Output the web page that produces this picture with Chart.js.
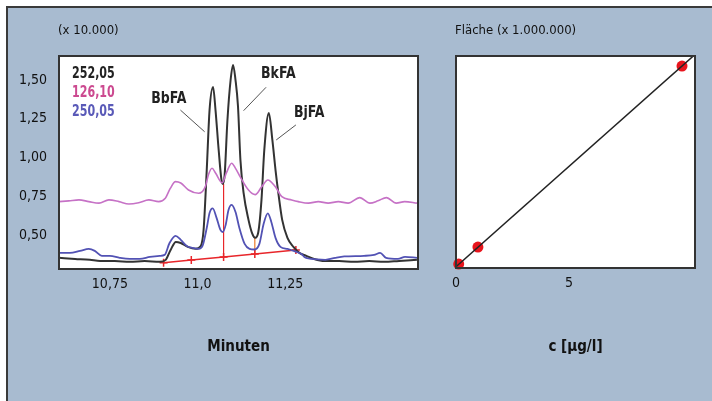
<!DOCTYPE html>
<html lang="de">
<head>
<meta charset="UTF-8">
<title>Chromatogramm und Kalibrierung</title>
<script src="https://cdn.jsdelivr.net/npm/chart.js"></script>
<style>
  body { margin:0; background:#ffffff; width:712px; height:401px; overflow:hidden; position:relative; }
  #panel { position:absolute; left:6px; top:6px; right:0; bottom:0; background:#a8bbd0; border-top:2px solid #3a3a3a; border-left:2px solid #3a3a3a; }
  canvas { position:absolute; top:0; }
  #chrom { left:0; }
  #kal { left:440px; }
</style>
</head>
<body>
<div id="panel"></div>
<canvas id="chrom" width="440" height="401"></canvas>
<canvas id="kal" width="272" height="401"></canvas>
<script>
// Chromatogramm, Spur 252,05
const t252 = [10.605,10.651,10.693,10.722,10.764,10.807,10.849,10.892,10.909,10.923,10.938,10.952,10.972,10.994,11.009,11.017,11.026,11.034,11.044,11.051,11.060,11.068,11.072,11.077,11.085,11.094,11.101,11.108,11.115,11.122,11.131,11.145,11.156,11.164,11.173,11.182,11.190,11.203,11.213,11.222,11.230,11.241,11.256,11.273,11.290,11.310,11.332,11.361,11.403,11.446,11.489,11.531,11.574,11.625];
const s252 = [0.352,0.345,0.339,0.332,0.332,0.326,0.332,0.326,0.339,0.403,0.455,0.448,0.423,0.410,0.429,0.532,0.919,1.306,1.455,1.306,1.048,0.855,0.829,0.887,1.242,1.500,1.597,1.500,1.332,0.984,0.771,0.597,0.506,0.481,0.519,0.726,1.048,1.287,1.113,0.919,0.771,0.597,0.481,0.423,0.384,0.365,0.345,0.332,0.332,0.326,0.332,0.326,0.332,0.339];

// Spur 126,10
const t126 = [10.605,10.633,10.662,10.690,10.719,10.747,10.776,10.804,10.832,10.861,10.889,10.908,10.922,10.937,10.952,10.974,11.003,11.022,11.031,11.041,11.051,11.070,11.082,11.097,11.108,11.121,11.145,11.164,11.183,11.200,11.221,11.240,11.268,11.287,11.316,11.344,11.372,11.401,11.429,11.462,11.491,11.514,11.538,11.566,11.590,11.625];
const s126 = [0.715,0.720,0.726,0.715,0.705,0.726,0.715,0.700,0.708,0.726,0.715,0.737,0.800,0.844,0.835,0.790,0.769,0.812,0.890,0.930,0.900,0.837,0.900,0.963,0.930,0.876,0.790,0.760,0.812,0.855,0.812,0.747,0.726,0.715,0.705,0.715,0.705,0.715,0.705,0.741,0.705,0.720,0.741,0.705,0.715,0.705];

// Spur 250,05
const t250 = [10.605,10.636,10.665,10.690,10.707,10.727,10.750,10.778,10.807,10.835,10.864,10.892,10.906,10.920,10.937,10.952,10.969,10.986,11.003,11.014,11.026,11.034,11.043,11.054,11.065,11.072,11.080,11.088,11.097,11.108,11.119,11.134,11.148,11.162,11.176,11.188,11.200,11.210,11.222,11.236,11.256,11.279,11.297,11.304,11.341,11.364,11.392,11.418,11.474,11.503,11.520,11.537,11.571,11.591,11.625];
const s250 = [0.384,0.384,0.397,0.410,0.397,0.365,0.365,0.352,0.345,0.345,0.358,0.365,0.371,0.448,0.494,0.468,0.429,0.416,0.410,0.429,0.545,0.642,0.671,0.610,0.532,0.519,0.565,0.661,0.694,0.648,0.545,0.442,0.410,0.406,0.442,0.571,0.639,0.584,0.481,0.423,0.410,0.392,0.375,0.358,0.342,0.339,0.352,0.361,0.365,0.371,0.384,0.352,0.345,0.358,0.352];

// Integrationsbasislinie und Lote
const tBase = [10.903, 10.982, 11.074, 11.163, 11.280];
const sBase = [0.321, 0.338, 0.358, 0.377, 0.403];
const tDrop = [11.074, 11.163];
const sDropLow = [0.358, 0.377];
const sDropHigh = [0.829, 0.481];

const xTicks = [10.75, 11.0, 11.25];
const xTickLabels = ['10,75', '11,0', '11,25'];
const yTicks = [0.5, 0.75, 1.0, 1.25, 1.5];
const yTickLabels = ['0,50', '0,75', '1,00', '1,25', '1,50'];

// Kalibrierung
const conc = [0.12, 0.97, 10.0];
const area = [0.13, 0.98, 10.0];
const fitC = [0, 10.8];
const fitA = [0, 10.8];
const cTicks = [0, 5];

const FONT = "'Liberation Sans Narrow', 'DejaVu Sans Condensed', 'Roboto Condensed', 'Liberation Sans', sans-serif";
Chart.defaults.font.family = FONT;
Chart.defaults.color = '#111';

function pts(xs, ys) { return xs.map((x, i) => ({x: x, y: ys[i]})); }

// weisser Plotbereich mit Rahmen
const frame = {
  id: 'frame',
  beforeDatasetsDraw(chart) {
    const a = chart.chartArea, c = chart.ctx;
    c.save(); c.fillStyle = '#fff'; c.fillRect(a.left, a.top, a.right - a.left, a.bottom - a.top); c.restore();
  },
  afterDatasetsDraw(chart) {
    const a = chart.chartArea, c = chart.ctx;
    c.save(); c.strokeStyle = '#333'; c.lineWidth = 2;
    c.strokeRect(a.left, a.top, a.right - a.left, a.bottom - a.top); c.restore();
  }
};

// schmaler Text (Schrift ist breiter als das Original)
function narrowText(c, text, x, y, sx) {
  c.save(); c.translate(x, y); c.scale(sx, 1); c.fillText(text, 0, 0); c.restore();
}

// Texte im Diagramm
const labels = {
  id: 'labels',
  afterDraw(chart, args, opts) {
    const c = chart.ctx, a = chart.chartArea, xs = chart.scales.x, ys = chart.scales.y;
    c.save();
    c.textBaseline = 'middle';
    c.font = '13px ' + FONT; c.fillStyle = '#111'; c.textAlign = 'left';
    c.fillText(opts.unit, a.left - 1, a.top - 25);
    (opts.legend || []).forEach((l, i) => {
      c.font = 'bold 16px ' + FONT; c.fillStyle = l.color;
      narrowText(c, l.text, a.left + 13, a.top + 18 + i * 19, 0.77);
    });
    (opts.peaks || []).forEach(p => {
      c.strokeStyle = '#555'; c.lineWidth = 1;
      c.beginPath();
      c.moveTo(xs.getPixelForValue(p.l[0]), ys.getPixelForValue(p.l[1]));
      c.lineTo(xs.getPixelForValue(p.l[2]), ys.getPixelForValue(p.l[3]));
      c.stroke();
      c.font = 'bold 16px ' + FONT; c.fillStyle = '#222'; c.textAlign = 'center';
      narrowText(c, p.text, xs.getPixelForValue(p.x), ys.getPixelForValue(p.y), 0.87);
    });
    c.restore();
  }
};

new Chart(document.getElementById('chrom'), {
  type: 'line',
  data: {
    datasets: [
      { label: '126,10', data: pts(t126, s126), borderColor: '#c672c6', borderWidth: 1.6, pointRadius: 0, cubicInterpolationMode: 'monotone' },
      { label: '250,05', data: pts(t250, s250), borderColor: '#5252b4', borderWidth: 1.8, pointRadius: 0, cubicInterpolationMode: 'monotone' },
      { label: '252,05', data: pts(t252, s252), borderColor: '#333', borderWidth: 2, pointRadius: 0, cubicInterpolationMode: 'monotone' },
      { label: 'Basis', data: pts(tBase, sBase), borderColor: '#e8262a', borderWidth: 1.5, pointStyle: 'cross', pointRadius: 4, pointBorderColor: '#e8262a', pointBorderWidth: 1.5 },
      { label: 'Lot1', data: [{x: tDrop[0], y: sDropLow[0]}, {x: tDrop[0], y: sDropHigh[0]}], borderColor: '#e8262a', borderWidth: 1.2, pointRadius: 0 },
      { label: 'Lot2', data: [{x: tDrop[1], y: sDropLow[1]}, {x: tDrop[1], y: sDropHigh[1]}], borderColor: '#ec7a2a', borderWidth: 1.2, pointRadius: 0 }
    ]
  },
  options: {
    responsive: false, animation: false, devicePixelRatio: 1,
    layout: { padding: { top: 56, right: 22, left: 0, bottom: 0 } },
    plugins: {
      legend: { display: false }, tooltip: { enabled: false },
      labels: {
        unit: '(x 10.000)',
        legend: [ { text: '252,05', color: '#222' }, { text: '126,10', color: '#cc4a90' }, { text: '250,05', color: '#5a5ab8' } ],
        peaks: [
          { text: 'BbFA', x: 10.918, y: 1.377, l: [10.951, 1.306, 11.020, 1.166] },
          { text: 'BkFA', x: 11.230, y: 1.539, l: [11.195, 1.453, 11.131, 1.302] },
          { text: 'BjFA', x: 11.318, y: 1.290, l: [11.280, 1.210, 11.224, 1.113] }
        ]
      }
    },
    scales: {
      x: {
        type: 'linear', min: 10.605, max: 11.628,
        grid: { display: false }, border: { display: false },
        afterBuildTicks: s => { s.ticks = xTicks.map(v => ({value: v})); },
        afterFit: s => { s.height = 132; },
        ticks: { font: { size: 14 }, padding: -1, maxRotation: 0, callback: v => xTickLabels[xTicks.indexOf(v)] },
        title: { display: true, text: 'Minuten', font: { size: 15, weight: 'bold' }, padding: { top: 0, bottom: 45 } }
      },
      y: {
        min: 0.28, max: 1.655,
        grid: { display: false }, border: { display: false },
        afterBuildTicks: s => { s.ticks = yTicks.map(v => ({value: v})); },
        afterFit: s => { s.width = 59; },
        ticks: { font: { size: 14 }, padding: 4, callback: v => yTickLabels[yTicks.indexOf(v)] }
      }
    }
  },
  plugins: [frame, labels]
});

new Chart(document.getElementById('kal'), {
  type: 'scatter',
  data: {
    datasets: [
      { label: 'Gerade', data: pts(fitC, fitA), showLine: true, borderColor: '#222', borderWidth: 1.5, pointRadius: 0 },
      { label: 'Standards', data: pts(conc, area), pointRadius: 5.5, pointBackgroundColor: '#e8141c', pointBorderWidth: 0, clip: false }
    ]
  },
  options: {
    responsive: false, animation: false, devicePixelRatio: 1,
    layout: { padding: { top: 56, right: 17, left: 0, bottom: 0 } },
    plugins: { legend: { display: false }, tooltip: { enabled: false }, labels: { unit: 'Fläche (x 1.000.000)' } },
    scales: {
      x: {
        type: 'linear', min: 0, max: 10.575,
        grid: { display: false }, border: { display: false },
        afterBuildTicks: s => { s.ticks = cTicks.map(v => ({value: v})); },
        afterFit: s => { s.height = 133; },
        ticks: { font: { size: 14 }, padding: -1, maxRotation: 0 },
        title: { display: true, text: 'c [µg/l]', font: { size: 15, weight: 'bold' }, padding: { top: 0, bottom: 45 } }
      },
      y: {
        min: -0.065, max: 10.5,
        grid: { display: false }, border: { display: false },
        ticks: { display: false },
        afterFit: s => { s.width = 16; }
      }
    }
  },
  plugins: [frame, labels]
});
</script>
</body>
</html>
